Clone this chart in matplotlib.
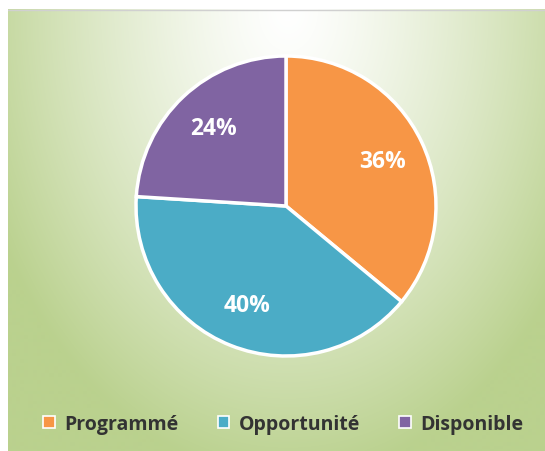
import numpy as np
import matplotlib.pyplot as plt
from matplotlib.patches import Patch

labels = ['Programmé', 'Opportunité', 'Disponible']
values = [36, 40, 24]
colors = ['#F79646', '#4BACC6', '#8064A2']

plt.rcParams['font.family'] = ['Open Sans', 'DejaVu Sans']

fig = plt.figure(figsize=(5.45, 4.52), dpi=100)
fig.patch.set_facecolor('white')

# background panel with a radial white -> green gradient
bg = fig.add_axes([8 / 545, 0, 537 / 545, 442 / 452])
h, w = 442, 537
yy, xx = np.mgrid[0:h, 0:w]
d = np.sqrt(((xx - 280) / 330.0) ** 2 + ((yy - 0) / 470.0) ** 2)
t = np.clip(d, 0, 1) ** 1.3
white = np.array([1.0, 1.0, 1.0])
green = np.array([186, 209, 142]) / 255.0
img = white[None, None, :] * (1 - t[..., None]) + green[None, None, :] * t[..., None]
bg.imshow(img, aspect='auto', interpolation='bilinear')
bg.set_axis_off()
bg.plot([0, w], [0.5, 0.5], color='#d0d0d0', lw=1)
bg.set_xlim(0, w)
bg.set_ylim(h, 0)

# pie axes
r = 150
cx, cy = 286, 207
ax = fig.add_axes([(cx - r) / 545, 1 - (cy + r) / 452, 2 * r / 545, 2 * r / 452])
wedges, texts, autotexts = ax.pie(
    values, colors=colors, startangle=90, counterclock=False,
    autopct='%d%%', pctdistance=0.71,
    wedgeprops=dict(edgecolor='white', linewidth=2.5, clip_on=False),
    textprops=dict(color='white', fontsize=16.5, fontweight='bold'))
ax.set_xlim(-1, 1)
ax.set_ylim(-1, 1)
ax.set_facecolor('none')

handles = [Patch(facecolor=c, edgecolor='white', linewidth=1.2) for c in colors]
fig.legend(handles, labels, loc='center', bbox_to_anchor=(0.52, 0.06), ncol=3,
           frameon=False, handlelength=0.6, handleheight=0.6, handletextpad=0.5,
           columnspacing=2.0,
           prop=dict(size=14, weight='bold'), labelcolor='#333333')

fig.savefig('out.png', dpi=100)
